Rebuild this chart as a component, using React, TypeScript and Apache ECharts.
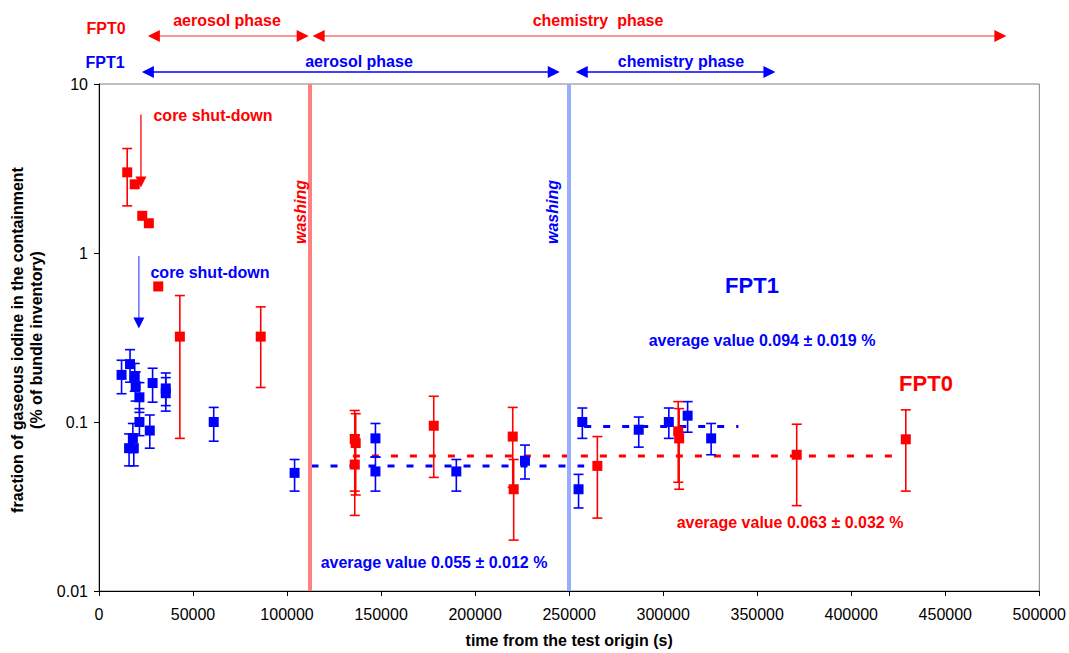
import React, { useEffect, useRef } from 'react';
import * as echarts from 'echarts';

const RED = '#ff0000';
const BLUE = '#0000ff';
const FONT = '"Liberation Sans", Arial, Helvetica, sans-serif';

// ---- FPT0 (red) measurements ----
const fpt0Time = [15000, 19000, 23000, 26500, 31500, 43000, 86000, 136000, 136500, 136000, 178000, 220000, 220500, 265000, 308000, 308500, 371000, 429000];
const fpt0Value = [3.0, 2.55, 1.66, 1.5, 0.634, 0.32, 0.32, 0.079, 0.075, 0.056, 0.095, 0.082, 0.04, 0.055, 0.088, 0.08, 0.064, 0.079];
const fpt0Low = [1.9, null, null, null, null, 0.08, 0.16, 0.039, 0.037, 0.028, 0.047, 0.041, 0.02, 0.027, 0.044, 0.04, 0.032, 0.039];
const fpt0High = [4.15, null, null, null, null, 0.56, 0.48, 0.117, 0.112, 0.084, 0.142, 0.122, 0.06, 0.082, 0.132, 0.12, 0.097, 0.118];

// ---- FPT1 (blue) measurements ----
const fpt1Time = [12000, 16500, 19000, 19500, 21500, 28500, 35500, 35500, 21500, 27000, 18000, 16000, 18500, 61000, 104000, 147000, 147000, 190000, 226500, 255000, 257000, 287000, 303000, 313000, 325500];
const fpt1Value = [0.19, 0.22, 0.186, 0.163, 0.14, 0.17, 0.158, 0.148, 0.1, 0.089, 0.08, 0.07, 0.07, 0.1, 0.05, 0.08, 0.051, 0.051, 0.059, 0.04, 0.1, 0.09, 0.1, 0.109, 0.08];
const fpt1Low = [0.147, 0.172, 0.152, 0.133, 0.114, 0.131, 0.125, 0.116, 0.083, 0.07, 0.066, 0.055, 0.055, 0.077, 0.039, 0.062, 0.039, 0.039, 0.046, 0.031, 0.08, 0.071, 0.08, 0.087, 0.064];
const fpt1High = [0.232, 0.268, 0.222, 0.198, 0.171, 0.208, 0.195, 0.183, 0.12, 0.11, 0.098, 0.085, 0.085, 0.122, 0.06, 0.098, 0.062, 0.06, 0.073, 0.049, 0.121, 0.107, 0.121, 0.132, 0.098];

// ---- average lines ----
const fpt0AvgRange = [135000, 428000];
const fpt0AvgValue = 0.063;
const fpt1AvgRange1 = [113000, 258000];
const fpt1AvgValue1 = 0.055;
const fpt1AvgRange2 = [258000, 340000];
const fpt1AvgValue2 = 0.094;

// ---- washing times ----
const fpt0Washing = 112000;
const fpt1Washing = 250000;

// ---- phase arrows (time ranges) ----
const fpt0Phases = [[26000, 111500], [113600, 482500]];
const fpt1Phases = [[22800, 245000], [253500, 359700]];

// ---- core shut-down arrows [time, from, to] ----
const fpt0Shutdown = [22300, 6.6, 2.44];
const fpt1Shutdown = [21200, 0.96, 0.357];

// ---- axis ticks ----
const xTicks = { min: 0, max: 500000, interval: 50000 };
const yTicks = { min: 0.01, max: 10 };

function errorBarSeries(times: number[], lows: (number | null)[], highs: (number | null)[], color: string) {
  const data = times
    .map((t, i) => (lows[i] == null ? null : [t, lows[i], highs[i]]))
    .filter((d) => d != null);
  return {
    type: 'custom',
    silent: true,
    z: 2,
    data,
    encode: { x: 0, y: [1, 2] },
    renderItem: (_p: any, api: any) => {
      const x = api.value(0);
      const lo = api.coord([x, api.value(1)]);
      const hi = api.coord([x, api.value(2)]);
      const w = 5;
      const style = { stroke: color, lineWidth: 1.6 };
      return {
        type: 'group',
        children: [
          { type: 'line', shape: { x1: lo[0], y1: lo[1], x2: hi[0], y2: hi[1] }, style },
          { type: 'line', shape: { x1: lo[0] - w, y1: lo[1], x2: lo[0] + w, y2: lo[1] }, style },
          { type: 'line', shape: { x1: hi[0] - w, y1: hi[1], x2: hi[0] + w, y2: hi[1] }, style },
        ],
      };
    },
  };
}

function phaseArrowSeries(ranges: number[][], headColor: string, lineColor: string, offset: number) {
  return {
    type: 'custom',
    clip: false,
    silent: true,
    z: 5,
    data: ranges.map((r) => [r[0], r[1], yTicks.max]),
    encode: { x: [0, 1], y: 2 },
    renderItem: (_p: any, api: any) => {
      const a = api.coord([api.value(0), api.value(2)]);
      const b = api.coord([api.value(1), api.value(2)]);
      const y = a[1] - offset;
      const L = 12;
      const H = 6;
      return {
        type: 'group',
        children: [
          { type: 'line', shape: { x1: a[0] + L - 1, y1: y, x2: b[0] - L + 1, y2: y }, style: { stroke: lineColor, lineWidth: 1.6 } },
          { type: 'polygon', shape: { points: [[a[0], y], [a[0] + L, y - H], [a[0] + L, y + H]] }, style: { fill: headColor } },
          { type: 'polygon', shape: { points: [[b[0], y], [b[0] - L, y - H], [b[0] - L, y + H]] }, style: { fill: headColor } },
        ],
      };
    },
  };
}

function shutdownArrowSeries(arrow: number[], headColor: string, lineColor: string) {
  return {
    type: 'custom',
    clip: false,
    silent: true,
    z: 5,
    data: [arrow],
    encode: { x: 0, y: [1, 2] },
    renderItem: (_p: any, api: any) => {
      const x = api.value(0);
      const a = api.coord([x, api.value(1)]);
      const b = api.coord([x, api.value(2)]);
      const L = 11;
      const H = 5.5;
      return {
        type: 'group',
        children: [
          { type: 'line', shape: { x1: a[0], y1: a[1], x2: b[0], y2: b[1] - L + 1 }, style: { stroke: lineColor, lineWidth: 1.3 } },
          { type: 'polygon', shape: { points: [[b[0], b[1]], [b[0] - H, b[1] - L], [b[0] + H, b[1] - L]] }, style: { fill: headColor } },
        ],
      };
    },
  };
}

function avgLineSeries(range: number[], value: number, color: string, washing: number, washColor: string | null) {
  const s: any = {
    type: 'line',
    silent: true,
    z: 1,
    symbol: 'none',
    data: [[range[0], value], [range[1], value]],
    lineStyle: { color, width: 3, type: [7, 12] },
  };
  if (washColor) {
    s.markLine = {
      silent: true,
      symbol: ['none', 'none'],
      label: { show: false },
      lineStyle: { color: washColor, width: 4, type: 'solid' },
      data: [{ xAxis: washing }],
    };
  }
  return s;
}

function txt(text: string, x: number, y: number, color: string, size: number, extra: any = {}) {
  return {
    type: 'text',
    x,
    y,
    silent: true,
    z: 10,
    ...extra,
    style: {
      text,
      fill: color,
      font: `${extra.italic ? 'italic ' : ''}bold ${size}px ${FONT}`,
      textAlign: 'center',
      align: 'center',
      textVerticalAlign: 'middle',
      verticalAlign: 'middle',
      lineHeight: extra.lineHeight || size + 3,
    },
  };
}

export default function App() {
  const ref = useRef<HTMLDivElement>(null);
  useEffect(() => {
    if (!ref.current) return;
    const chart = echarts.init(ref.current, null, { renderer: 'svg' });
    const option: any = {
      animation: false,
      backgroundColor: '#ffffff',
      textStyle: { fontFamily: FONT },
      grid: { left: 99, right: 26, top: 84, bottom: 55, show: true, borderColor: '#808080', borderWidth: 1 },
      xAxis: {
        type: 'value',
        min: xTicks.min,
        max: xTicks.max,
        interval: xTicks.interval,
        name: 'time from the test origin (s)',
        nameLocation: 'middle',
        nameGap: 41,
        nameTextStyle: { color: '#000', fontWeight: 'bold', fontSize: 16, fontFamily: FONT },
        axisLine: { lineStyle: { color: '#000', width: 1 } },
        axisTick: { length: 5, lineStyle: { color: '#000' } },
        axisLabel: { color: '#000', fontSize: 16, margin: 15, fontFamily: FONT, formatter: (v: number) => String(v) },
        splitLine: { show: false },
      },
      yAxis: {
        type: 'log',
        logBase: 10,
        min: yTicks.min,
        max: yTicks.max,
        axisLine: { show: true, lineStyle: { color: '#000', width: 1 } },
        axisTick: { show: true, length: 5, lineStyle: { color: '#000' } },
        axisLabel: {
          color: '#000',
          fontSize: 16,
          margin: 11,
          fontFamily: FONT,
          formatter: (v: number) => String(+Number(v).toPrecision(6)),
        },
        splitLine: { show: false },
      },
      series: [
        avgLineSeries(fpt1AvgRange1, fpt1AvgValue1, BLUE, fpt1Washing, '#99adff'),
        avgLineSeries(fpt1AvgRange2, fpt1AvgValue2, BLUE, 0, null),
        avgLineSeries(fpt0AvgRange, fpt0AvgValue, RED, fpt0Washing, '#ff8080'),
        errorBarSeries(fpt1Time, fpt1Low, fpt1High, BLUE),
        {
          type: 'scatter',
          name: 'FPT1',
          z: 3,
          symbol: 'rect',
          symbolSize: 10,
          itemStyle: { color: BLUE, opacity: 1 },
          data: fpt1Time.map((t, i) => [t, fpt1Value[i]]),
        },
        errorBarSeries(fpt0Time, fpt0Low, fpt0High, RED),
        {
          type: 'scatter',
          name: 'FPT0',
          z: 4,
          symbol: 'rect',
          symbolSize: 10,
          itemStyle: { color: RED, opacity: 1 },
          data: fpt0Time.map((t, i) => [t, fpt0Value[i]]),
        },
        phaseArrowSeries(fpt0Phases, RED, '#ff7070', 48),
        phaseArrowSeries(fpt1Phases, BLUE, BLUE, 12),
        shutdownArrowSeries(fpt0Shutdown, RED, RED),
        shutdownArrowSeries(fpt1Shutdown, BLUE, '#5555ff'),
      ],
      graphic: [
        txt('fraction of gaseous iodine in the containment\n(% of bundle inventory)', 27, 340, '#000', 16, { rotation: Math.PI / 2, lineHeight: 19 }),
        txt('FPT0', 106, 28, RED, 16),
        txt('aerosol phase', 227, 20, RED, 16),
        txt('chemistry  phase', 598, 20, RED, 16),
        txt('FPT1', 105, 62, BLUE, 16),
        txt('aerosol phase', 359, 61, BLUE, 16),
        txt('chemistry phase', 681, 61, BLUE, 16),
        txt('core shut-down', 213, 115, RED, 16),
        txt('core shut-down', 210, 272, BLUE, 16),
        txt('washing', 300, 212, RED, 16, { rotation: Math.PI / 2, italic: true }),
        txt('washing', 552, 212, BLUE, 16, { rotation: Math.PI / 2, italic: true }),
        txt('FPT1', 752, 285, BLUE, 22),
        txt('FPT0', 926, 383, RED, 22),
        txt('average value 0.094 \u00b1 0.019 %', 762, 340, BLUE, 16),
        txt('average value 0.063 \u00b1 0.032 %', 790, 522, RED, 16),
        txt('average value 0.055 \u00b1 0.012 %', 434, 562, BLUE, 16),
      ],
    };
    chart.setOption(option);
    return () => chart.dispose();
  }, []);
  return <div ref={ref} style={{ position: 'fixed', left: 0, top: 0, width: 1069, height: 653, background: '#fff' }} />;
}
